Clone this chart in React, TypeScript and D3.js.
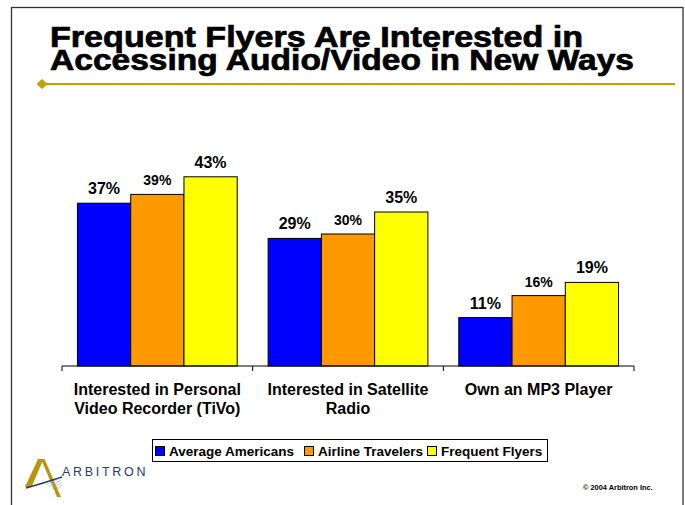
import React from "react";
import * as d3 from "d3";

const categories = [
  ["Interested in Personal", "Video Recorder (TiVo)"],
  ["Interested in Satellite", "Radio"],
  ["Own an MP3 Player"],
];
const seriesNames = ["Average Americans", "Airline Travelers", "Frequent Flyers"];
const averageAmericans = [37, 29, 11];
const airlineTravelers = [39, 30, 16];
const frequentFlyers = [43, 35, 19];
const seriesValues = [averageAmericans, airlineTravelers, frequentFlyers];
const seriesColors = ["#0000FF", "#FF9900", "#FFFF00"];
const labelSizes = [16, 14, 16];
const titleLines = ["Frequent Flyers Are Interested in", "Accessing Audio/Video in New Ways"];

const W = 685;
const H = 505;
const FONT = "'Liberation Sans', Arial, Helvetica, sans-serif";

export default function App() {
  const catIdx = categories.map((_, i) => String(i));
  const x0 = d3.scaleBand().domain(catIdx).range([62, 634]).padding(0);
  const x1 = d3
    .scaleBand()
    .domain(seriesNames)
    .range([0, x0.bandwidth()])
    .paddingInner(0)
    .paddingOuter(0.29);
  const y = d3.scaleLinear().domain([0, 50]).range([366, 146]);
  const base = y(0);

  const tickXs = [...catIdx.map((c) => x0(c) as number), 634];

  return (
    <svg
      width={W}
      height={H}
      style={{ position: "absolute", left: 0, top: 0, display: "block", background: "#fff" }}
      fontFamily={FONT}
    >
      <rect x={0} y={0} width={W} height={H} fill="#fff" />
      {/* slide frame */}
      <rect x={11.5} y={7.5} width={671.5} height={520} fill="none" stroke="#333" strokeWidth={1.3} />

      {/* title */}
      <text fontSize={29} fontWeight="bold" fill="#000" stroke="#000" strokeWidth={0.7}>
        {titleLines.map((t, i) => (
          <tspan
            key={i}
            x={50}
            y={47 + i * 23}
            textLength={i === 0 ? 533 : 584}
            lengthAdjust="spacingAndGlyphs"
          >
            {t}
          </tspan>
        ))}
      </text>
      <line x1={42} x2={675} y1={84} y2={84} stroke="#C4A000" strokeWidth={2} />
      <path d="M36.5,84 L42,79 L47.5,84 L42,89 Z" fill="#C4A000" />

      {/* bars */}
      {catIdx.map((c, ci) => (
        <g key={c} transform={`translate(${x0(c)},0)`}>
          {seriesNames.map((s, si) => {
            const v = seriesValues[si][ci];
            const bx = x1(s) as number;
            const bw = x1.bandwidth();
            return (
              <g key={s}>
                <rect
                  x={bx}
                  y={y(v)}
                  width={bw}
                  height={base - y(v)}
                  fill={seriesColors[si]}
                  stroke="#000"
                  strokeWidth={1}
                />
                <text
                  x={bx + bw / 2}
                  y={y(v) - 9}
                  textAnchor="middle"
                  fontSize={labelSizes[si]}
                  fontWeight="bold"
                  fill="#000"
                >
                  {v}%
                </text>
              </g>
            );
          })}
        </g>
      ))}

      {/* axis */}
      <line x1={62} x2={634} y1={base} y2={base} stroke="#000" strokeWidth={1} />
      {tickXs.map((tx, i) => (
        <line key={i} x1={tx} x2={tx} y1={base} y2={base + 5} stroke="#000" strokeWidth={1} />
      ))}
      {catIdx.map((c, ci) => (
        <text
          key={c}
          x={(x0(c) as number) + x0.bandwidth() / 2}
          textAnchor="middle"
          fontSize={16}
          fontWeight="bold"
          fill="#000"
        >
          {categories[ci].map((line, li) => (
            <tspan key={li} x={(x0(c) as number) + x0.bandwidth() / 2} y={395 + li * 18.5}>
              {line}
            </tspan>
          ))}
        </text>
      ))}

      {/* legend */}
      <rect x={152.5} y={439.5} width={395} height={22} fill="#fff" stroke="#000" strokeWidth={1} />
      {seriesNames.map((s, si) => {
        const lx = [155, 304, 427][si];
        return (
          <g key={s}>
            <rect x={lx + 0.5} y={446.5} width={9} height={9} fill={seriesColors[si]} stroke="#000" strokeWidth={1} />
            <text x={lx + 14} y={456} fontSize={13.5} fontWeight="bold" fill="#000">
              {s}
            </text>
          </g>
        );
      })}

      {/* logo */}
      <path d="M38,459 L43.5,459 L31.5,487 L25,487 Z" fill="#B8960C" />
      <path d="M41,459 L44.5,459 L61,497 L57,497 Z" fill="#B8960C" />
      <path d="M26,488 Q44,483 62,477" fill="none" stroke="#2B3A67" strokeWidth={1.6} />
      <path d="M46,485 L60,478 M49,487 L61,480 M52,489 L62,482 M55,491 L62,485" stroke="#9AA3C4" strokeWidth={0.6} />
      <text x={62} y={476} fontSize={12.5} fill="#2B3A67" letterSpacing={2.7}>
        ARBITRON
      </text>

      <text x={583} y={490} fontSize={7.4} fontWeight="bold" fill="#000">
        © 2004 Arbitron Inc.
      </text>
    </svg>
  );
}
